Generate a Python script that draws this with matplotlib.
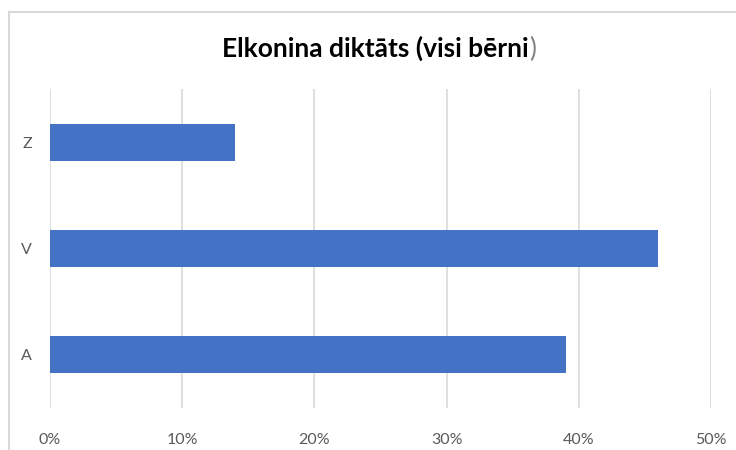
import matplotlib
matplotlib.use("Agg")
import matplotlib.pyplot as plt
from matplotlib.lines import Line2D

categories = ["A", "V", "Z"]
values = [0.39, 0.46, 0.14]
xticks = [0, 0.1, 0.2, 0.3, 0.4, 0.5]
xticklabels = ["0%", "10%", "20%", "30%", "40%", "50%"]
title_main = "Elkonina diktāts (visi bērni"
title_end = ")"

W, H = 736, 450
fig = plt.figure(figsize=(W / 100, H / 100), dpi=100)
font = "Lato"

ax = fig.add_axes([50 / W, 1 - 408 / H, (711 - 50) / W, (408 - 89) / H])
ax.barh(range(len(categories)), values, height=0.35, color="#4472C4", zorder=3)
ax.set_xlim(0, 0.5)
ax.set_ylim(-0.5, len(categories) - 0.5)
ax.set_xticks(xticks)
ax.set_xticklabels(xticklabels, fontsize=11.5, color="#595959", family=font)
ax.set_yticks(range(len(categories)))
ax.set_yticklabels(categories, fontsize=11.5, color="#595959", family=font)
ax.tick_params(length=0, pad=18, axis="x")
ax.tick_params(length=0, pad=13, axis="y")
ax.grid(axis="x", color="#D9D9D9", linewidth=1.2, zorder=0)
for s in ax.spines.values():
    s.set_visible(False)

# chart border (cropped at right and bottom)
fig.add_artist(Line2D([8.5 / W, 1], [1 - 12 / H, 1 - 12 / H], color="#D9D9D9", lw=1.5, transform=fig.transFigure))
fig.add_artist(Line2D([8.5 / W, 8.5 / W], [0, 1 - 12 / H], color="#D9D9D9", lw=1.5, transform=fig.transFigure))

# title with lighter closing parenthesis
base_y = 1 - 57 / H
t1 = fig.text(0, base_y, title_main, fontsize=19, fontweight="bold", color="#000000",
              family=font, va="baseline", ha="left")
t2 = fig.text(0, base_y, title_end, fontsize=19, color="#808080",
              family=font, va="baseline", ha="left")
fig.canvas.draw()
r = fig.canvas.get_renderer()
w1 = t1.get_window_extent(r).width
w2 = t2.get_window_extent(r).width
cx = 379
x0 = cx - (w1 + w2) / 2
t1.set_x(x0 / W)
t2.set_x((x0 + w1) / W)

fig.savefig("out.png", dpi=100, facecolor="white")
